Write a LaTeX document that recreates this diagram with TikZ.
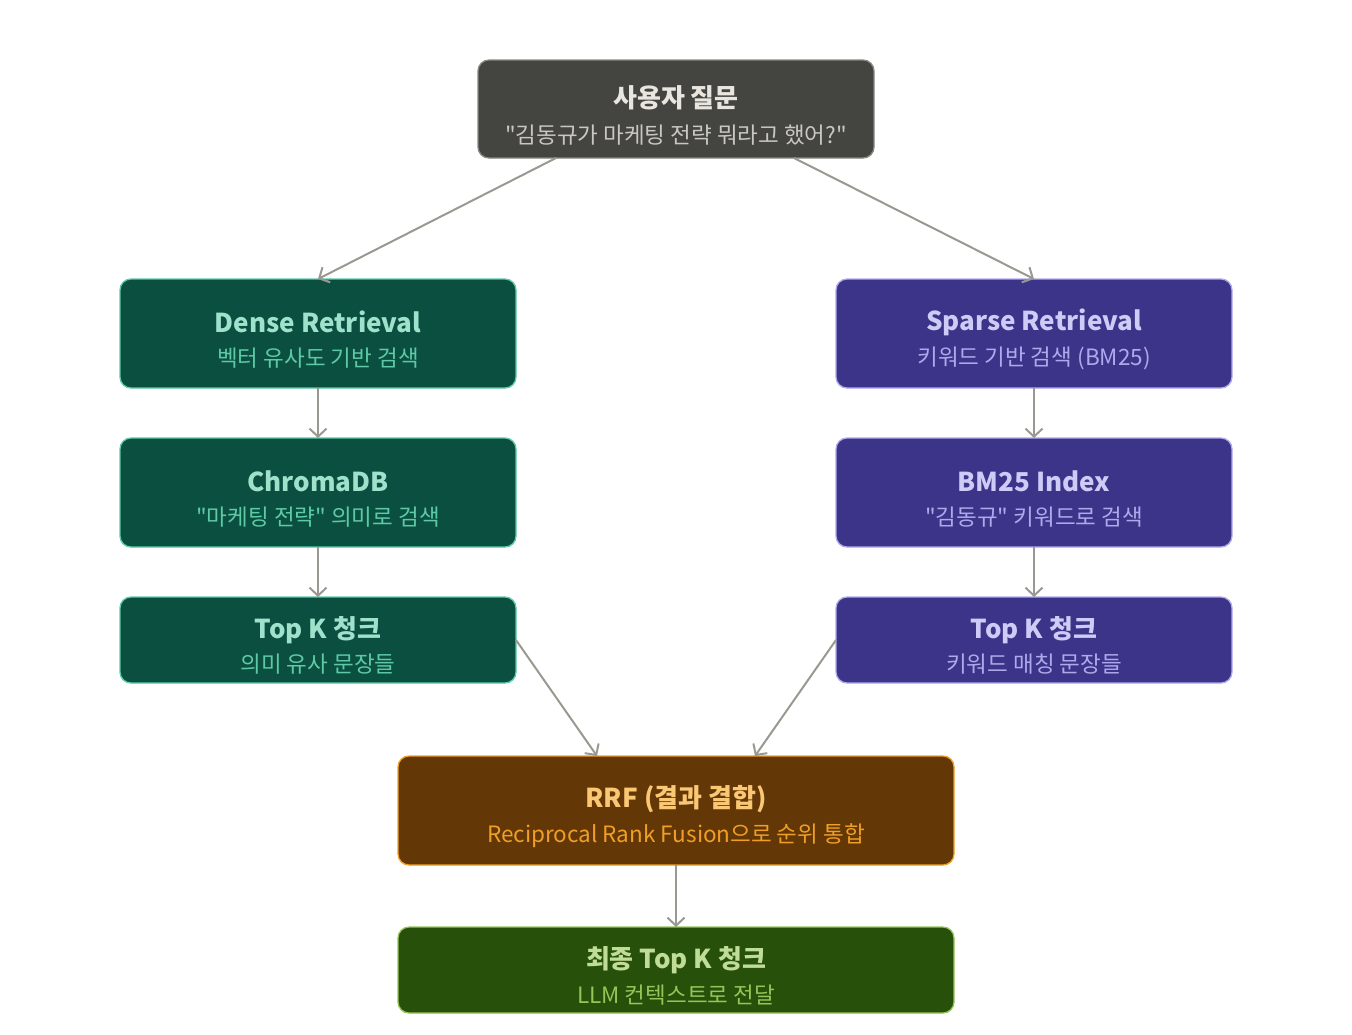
\documentclass[tikz,border=0pt]{standalone}
\usepackage{fontspec}
\newfontfamily\krfont{Noto Sans CJK KR}
\usetikzlibrary{arrows.meta}
\definecolor{qfill}{HTML}{444441}\definecolor{qline}{HTML}{888780}\definecolor{qtitle}{HTML}{E8E6DF}\definecolor{qsub}{HTML}{C9C7C0}
\definecolor{gfill}{HTML}{0B4F41}\definecolor{gline}{HTML}{5DCAA5}\definecolor{gtitle}{HTML}{9FE1CB}
\definecolor{pfill}{HTML}{3C3489}\definecolor{pline}{HTML}{AFA9EC}\definecolor{ptitle}{HTML}{CECBF6}
\definecolor{ofill}{HTML}{633806}\definecolor{oline}{HTML}{EF9F27}\definecolor{otitle}{HTML}{FAC775}
\definecolor{lfill}{HTML}{27500A}\definecolor{lline}{HTML}{97C459}\definecolor{ltitle}{HTML}{C0DD97}
\definecolor{arr}{HTML}{9A9991}
\begin{document}
\begin{tikzpicture}[x=1pt,y=-1pt,
  box/.style={rounded corners=11pt,line width=1.3pt,inner sep=0pt,align=center},
  qbox/.style={box,fill=qfill,draw=qline},
  gbox/.style={box,fill=gfill,draw=gline},
  pbox/.style={box,fill=pfill,draw=pline},
  obox/.style={box,fill=ofill,draw=oline},
  lbox/.style={box,fill=lfill,draw=lline},
  ttl/.style={font=\krfont\fontsize{26}{30}\selectfont\bfseries},
  sub/.style={font=\krfont\fontsize{22.5}{26}\selectfont},
  conn/.style={draw=arr,line width=2pt,-{Straight Barb[length=8pt,width=17pt,line width=2pt]}}
]
\useasboundingbox (0,0) rectangle (1352,1034);
% boxes
\path[qbox] (478,60) rectangle (874,158);
\node[ttl,text=qtitle] (qt) at (676,98) {사용자 질문};
\node[sub,text=qsub] (qs) at (676,135) {"김동규가 마케팅 전략 뭐라고 했어?"};

\path[gbox] (120,279) rectangle (516,388);
\node[ttl,text=gtitle] (d1) at (318,322) {Dense Retrieval};
\node[sub,text=gline] (d2) at (318,358) {벡터 유사도 기반 검색};
\path[gbox] (120,438) rectangle (516,547);
\node[ttl,text=gtitle] (c1) at (318,481) {ChromaDB};
\node[sub,text=gline] (c2) at (318,517) {"마케팅 전략" 의미로 검색};
\path[gbox] (120,597) rectangle (516,683);
\node[ttl,text=gtitle] (k1) at (318,630) {Top K 청크};
\node[sub,text=gline] (k2) at (318,664) {의미 유사 문장들};

\path[pbox] (836,279) rectangle (1232,388);
\node[ttl,text=ptitle] (s1) at (1034,322) {Sparse Retrieval};
\node[sub,text=pline] (s2) at (1034,358) {키워드 기반 검색 (BM25)};
\path[pbox] (836,438) rectangle (1232,547);
\node[ttl,text=ptitle] (b1) at (1034,481) {BM25 Index};
\node[sub,text=pline] (b2) at (1034,517) {"김동규" 키워드로 검색};
\path[pbox] (836,597) rectangle (1232,683);
\node[ttl,text=ptitle] (m1) at (1034,630) {Top K 청크};
\node[sub,text=pline] (m2) at (1034,664) {키워드 매칭 문장들};

\path[obox] (398,756) rectangle (954,865);
\node[ttl,text=otitle] (r1) at (676,799) {RRF (결과 결합)};
\node[sub,text=oline] (r2) at (676,836) {Reciprocal Rank Fusion으로 순위 통합};
\path[lbox] (398,927) rectangle (954,1013);
\node[ttl,text=ltitle] (f1) at (676,960) {최종 Top K 청크};
\node[sub,text=lline] (f2) at (676,995) {LLM 컨텍스트로 전달};

% connector anchors
\coordinate (qL) at (556,158); \coordinate (qR) at (794,158);
\coordinate (dT) at (318,279); \coordinate (dB) at (318,388);
\coordinate (cT) at (318,438); \coordinate (cB) at (318,547);
\coordinate (kT) at (318,597); \coordinate (kR) at (516,640);
\coordinate (sT) at (1034,279); \coordinate (sB) at (1034,388);
\coordinate (bT) at (1034,438); \coordinate (bB) at (1034,547);
\coordinate (mT) at (1034,597); \coordinate (mL) at (836,640);
\coordinate (rL) at (597,756); \coordinate (rR) at (755,756); \coordinate (rB) at (676,865);
\coordinate (fT) at (676,927);

\draw[conn] (qL) -- (dT);
\draw[conn] (qR) -- (sT);
\draw[conn] (dB) -- (cT);
\draw[conn] (cB) -- (kT);
\draw[conn] (sB) -- (bT);
\draw[conn] (bB) -- (mT);
\draw[conn] (kR) -- (rL);
\draw[conn] (mL) -- (rR);
\draw[conn] (rB) -- (fT);
\end{tikzpicture}
\end{document}
